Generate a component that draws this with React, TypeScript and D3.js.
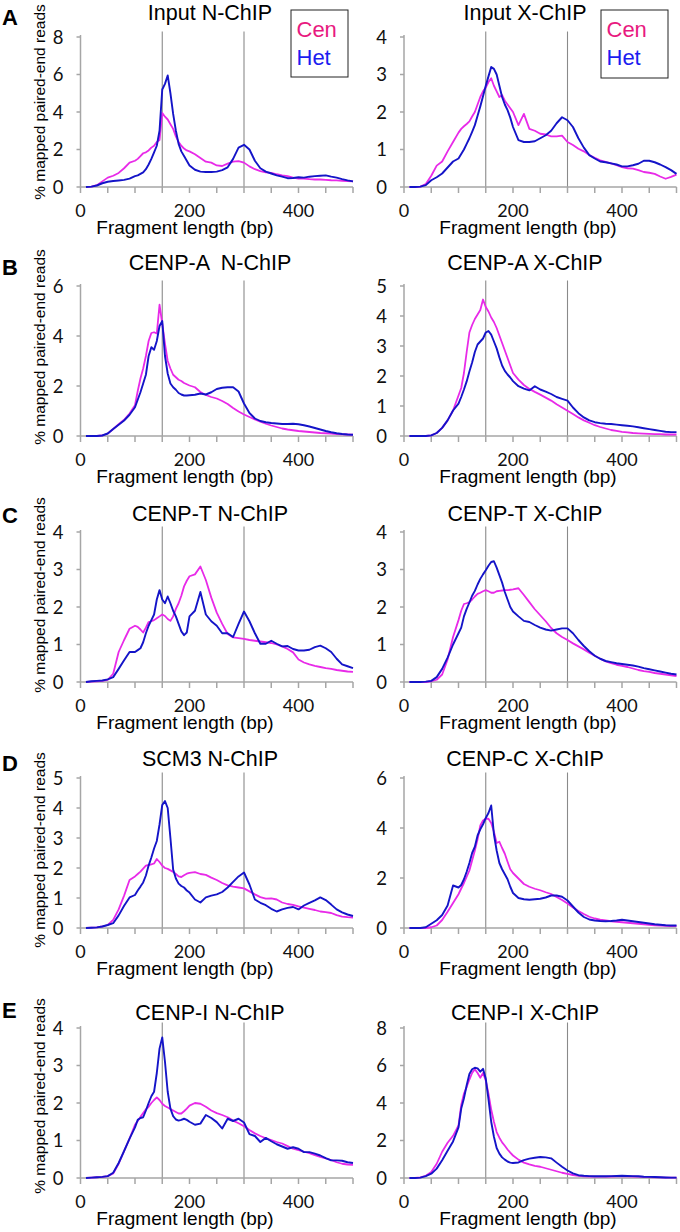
import React from 'react';
import * as d3 from 'd3';

// Fragment length grid (bp)
const fragmentLengths = [
  10, 20, 30, 40, 50, 60, 70, 80, 90, 100,
  105, 110, 115, 120, 125, 130, 135, 140, 145, 150, 155, 160, 165, 170, 175, 180, 185, 190, 195, 200,
  210, 220, 230, 240, 250, 260, 270, 280, 290, 300, 310, 320, 330, 340, 350, 360, 370, 380, 390, 400,
  410, 420, 430, 440, 450, 460, 470, 480, 490, 500,
];

const xTickLabels = [0, 200, 400];
const xMinorTicks = [0, 50, 100, 150, 200, 250, 300, 350, 400, 450, 500];
const refLines = [150, 300];
const seriesNames = ['Cen', 'Het'];

// A: Input N-ChIP
const inputN_cen = [
  0, 0.02, 0.1, 0.3, 0.5, 0.6, 0.75, 1.0, 1.3, 1.4,
  1.5, 1.65, 1.8, 1.85, 1.95, 2.1, 2.2, 2.4, 2.5, 3.95, 3.75, 3.6, 3.35, 3.1, 2.7, 2.4, 2.2, 2.05, 1.95, 1.9,
  1.75, 1.55, 1.35, 1.3, 1.15, 1.12, 1.25, 1.35, 1.38, 1.3, 1.1, 0.95, 0.85, 0.78, 0.75, 0.68, 0.62, 0.58, 0.5, 0.45,
  0.45, 0.42, 0.4, 0.4, 0.38, 0.36, 0.35, 0.33, 0.32, 0.3,
];
const inputN_het = [
  0, 0.02, 0.08, 0.2, 0.28, 0.32, 0.35, 0.38, 0.45, 0.58,
  0.62, 0.7, 0.78, 0.95, 1.2, 1.5, 1.85, 2.2, 3.0, 5.2, 5.5, 5.95, 5.0, 3.9, 3.0, 2.3, 1.9, 1.65, 1.4, 1.15,
  0.92, 0.82, 0.8, 0.8, 0.82, 0.9, 1.05, 1.5, 2.1, 2.25, 2.0, 1.4, 1.0, 0.82, 0.72, 0.62, 0.55, 0.47, 0.48, 0.52,
  0.5, 0.55, 0.58, 0.6, 0.62, 0.55, 0.5, 0.42, 0.35, 0.3,
];
// A: Input X-ChIP
const inputX_cen = [
  0, 0, 0.01, 0.08, 0.3, 0.57, 0.68, 0.95, 1.2, 1.45,
  1.55, 1.62, 1.68, 1.75, 1.88, 2.0, 2.2, 2.4, 2.55, 2.65, 2.8, 2.9, 2.7, 2.55, 2.4, 2.45, 2.3, 2.2, 2.1, 2.0,
  1.65, 1.95, 1.55, 1.5, 1.42, 1.4, 1.35, 1.35, 1.37, 1.2, 1.12, 1.02, 0.95, 0.85, 0.78, 0.71, 0.67, 0.63, 0.58, 0.53,
  0.5, 0.49, 0.45, 0.4, 0.38, 0.35, 0.28, 0.22, 0.27, 0.33,
];
const inputX_het = [
  0, 0, 0.01, 0.05, 0.18, 0.26, 0.36, 0.52, 0.68, 0.76,
  0.88, 1.0, 1.15, 1.3, 1.47, 1.65, 1.9, 2.15, 2.42, 2.7, 2.95, 3.2, 3.15, 3.0, 2.7, 2.4, 2.2, 2.05, 1.85, 1.6,
  1.25, 1.2, 1.2, 1.22, 1.3, 1.38, 1.5, 1.7, 1.86, 1.78, 1.6, 1.3, 1.05, 0.85, 0.76, 0.68, 0.66, 0.63, 0.6, 0.55,
  0.55, 0.58, 0.62, 0.7, 0.7, 0.66, 0.6, 0.53, 0.45, 0.35,
];
// B: CENP-A N-ChIP
const cenpaN_cen = [
  0, 0, 0, 0.02, 0.1, 0.28, 0.47, 0.65, 0.9, 1.23,
  1.8, 2.3, 2.7, 3.2, 3.8, 4.12, 4.15, 4.1, 5.25, 4.5, 3.7, 3.0, 2.7, 2.45, 2.35, 2.25, 2.2, 2.12, 2.07, 2.02,
  1.95, 1.76, 1.64, 1.56, 1.5, 1.4, 1.28, 1.12, 0.98, 0.86, 0.76, 0.66, 0.57, 0.49, 0.42, 0.36, 0.3, 0.26, 0.23, 0.2,
  0.18, 0.16, 0.14, 0.12, 0.11, 0.1, 0.08, 0.07, 0.06, 0.05,
];
const cenpaN_het = [
  0, 0, 0, 0.02, 0.1, 0.28, 0.45, 0.62, 0.85, 1.15,
  1.45, 1.75, 2.1, 2.45, 3.2, 3.55, 3.45, 3.8, 4.4, 4.6, 3.2, 2.5, 2.1, 1.95, 1.85, 1.72, 1.66, 1.62, 1.62, 1.63,
  1.65, 1.7, 1.66, 1.75, 1.88, 1.93, 1.95, 1.95, 1.78, 1.3, 0.92, 0.7, 0.6, 0.55, 0.52, 0.5, 0.48, 0.48, 0.49, 0.47,
  0.43, 0.38, 0.32, 0.26, 0.2, 0.15, 0.11, 0.08, 0.06, 0.05,
];
// B: CENP-A X-ChIP
const cenpaX_cen = [
  0, 0, 0, 0, 0.02, 0.1, 0.27, 0.52, 0.85, 1.35,
  1.6, 2.1, 2.8, 3.45, 3.7, 3.9, 4.05, 4.2, 4.55, 4.3, 4.15, 3.95, 3.8, 3.6, 3.35, 3.1, 2.85, 2.6, 2.35, 2.1,
  1.88, 1.7, 1.57, 1.47, 1.38, 1.28, 1.18, 1.06, 0.95, 0.84, 0.73, 0.62, 0.52, 0.44, 0.36, 0.3, 0.25, 0.2, 0.17, 0.14,
  0.12, 0.1, 0.09, 0.08, 0.07, 0.06, 0.06, 0.05, 0.05, 0.05,
];
const cenpaX_het = [
  0, 0, 0, 0, 0.02, 0.1, 0.27, 0.52, 0.85, 1.08,
  1.3, 1.55, 1.82, 2.15, 2.45, 2.8, 3.05, 3.15, 3.25, 3.45, 3.5, 3.38, 3.15, 2.92, 2.62, 2.35, 2.17, 2.05, 1.95, 1.83,
  1.66, 1.58, 1.52, 1.66, 1.55, 1.48, 1.4, 1.3, 1.24, 1.18, 0.95, 0.76, 0.62, 0.52, 0.46, 0.43, 0.41, 0.4, 0.38, 0.36,
  0.34, 0.32, 0.29, 0.26, 0.23, 0.2, 0.17, 0.14, 0.13, 0.13,
];
// C: CENP-T N-ChIP
const cenptN_cen = [
  0, 0.01, 0.02, 0.03, 0.06, 0.22, 0.8, 1.12, 1.42, 1.5,
  1.47, 1.4, 1.32, 1.45, 1.6, 1.62, 1.65, 1.7, 1.75, 1.8, 1.76, 1.68, 1.63, 1.75, 1.95, 2.1, 2.3, 2.55, 2.7, 2.82,
  2.87, 3.08, 2.72, 2.25, 1.85, 1.55, 1.28, 1.19, 1.17, 1.15, 1.12, 1.1, 1.08, 1.06, 1.04, 1.0, 0.95, 0.88, 0.79, 0.6,
  0.52, 0.47, 0.43, 0.4, 0.37, 0.35, 0.32, 0.3, 0.28, 0.27,
];
const cenptN_het = [
  0, 0.02, 0.03, 0.04, 0.07, 0.13, 0.35, 0.58, 0.8, 0.8,
  0.85, 0.9, 1.06, 1.3, 1.5, 1.65, 1.8, 2.2, 2.45, 2.2, 2.1, 2.28, 2.1, 1.9, 1.75, 1.55, 1.35, 1.25, 1.32, 1.75,
  1.9, 2.4, 1.8, 1.62, 1.5, 1.3, 1.3, 1.2, 1.55, 1.88, 1.62, 1.3, 1.02, 1.02, 1.1, 1.02, 0.95, 0.96, 0.88, 0.84,
  0.84, 0.86, 0.93, 0.97, 0.9, 0.8, 0.62, 0.47, 0.42, 0.37,
];
// C: CENP-T X-ChIP
const cenptX_cen = [
  0, 0, 0, 0, 0.02, 0.06, 0.2, 0.6, 1.2, 1.65,
  1.9, 2.08, 2.1, 2.13, 2.2, 2.28, 2.35, 2.38, 2.42, 2.45, 2.42, 2.38, 2.38, 2.42, 2.43, 2.44, 2.45, 2.45, 2.46, 2.47,
  2.5, 2.32, 2.13, 1.94, 1.78, 1.62, 1.44, 1.3, 1.2, 1.12, 1.03, 0.95, 0.87, 0.78, 0.7, 0.62, 0.55, 0.5, 0.46, 0.43,
  0.4, 0.36, 0.32, 0.29, 0.27, 0.24, 0.22, 0.2, 0.18, 0.16,
];
const cenptX_het = [
  0, 0, 0, 0.01, 0.03, 0.13, 0.35, 0.65, 1.0, 1.3,
  1.45, 1.75, 1.95, 2.12, 2.3, 2.43, 2.6, 2.75, 2.87, 2.98, 3.1, 3.2, 3.22, 3.05, 2.85, 2.65, 2.4, 2.2, 2.0, 1.88,
  1.75, 1.63, 1.6, 1.52, 1.45, 1.4, 1.37, 1.4, 1.43, 1.43, 1.3, 1.12, 0.96, 0.82, 0.7, 0.62, 0.56, 0.53, 0.5, 0.48,
  0.46, 0.44, 0.41, 0.37, 0.34, 0.31, 0.28, 0.25, 0.22, 0.2,
];
// D: SCM3 N-ChIP
const scm3N_cen = [
  0, 0.01, 0.02, 0.05, 0.1, 0.27, 0.62, 1.08, 1.6, 1.72,
  1.8, 1.88, 1.98, 2.08, 2.1, 2.12, 2.15, 2.3, 2.2, 2.08, 2.0, 1.97, 1.92, 1.87, 1.8, 1.72, 1.7, 1.76, 1.81, 1.84,
  1.86, 1.8, 1.77, 1.68, 1.6, 1.5, 1.42, 1.38, 1.35, 1.32, 1.22, 1.12, 1.03, 0.98, 0.99, 0.95, 0.85, 0.8, 0.77, 0.72,
  0.68, 0.64, 0.6, 0.55, 0.53, 0.5, 0.43, 0.38, 0.36, 0.35,
];
const scm3N_het = [
  0, 0.01, 0.02, 0.05, 0.1, 0.16, 0.42, 0.74, 1.02, 1.1,
  1.25, 1.38, 1.52, 1.75, 2.08, 2.35, 2.65, 2.9, 3.45, 4.1, 4.23, 4.0, 3.0, 1.95, 1.65, 1.48, 1.4, 1.35, 1.25, 1.18,
  0.95, 0.85, 1.02, 1.08, 1.12, 1.2, 1.35, 1.54, 1.72, 1.85, 1.45, 0.95, 0.84, 0.76, 0.64, 0.55, 0.62, 0.67, 0.7, 0.62,
  0.75, 0.84, 0.92, 1.02, 0.93, 0.78, 0.62, 0.52, 0.45, 0.4,
];
// D: CENP-C X-ChIP
const cenpcX_cen = [
  0, 0, 0, 0, 0.03, 0.1, 0.32, 0.65, 1.0, 1.35,
  1.58, 1.8, 2.05, 2.3, 2.7, 3.1, 3.55, 4.1, 4.3, 4.37, 4.37, 4.2, 3.85, 3.4, 3.45, 3.2, 2.97, 2.65, 2.35, 2.2,
  1.98, 1.76, 1.65, 1.57, 1.51, 1.43, 1.36, 1.24, 1.12, 0.98, 0.82, 0.68, 0.56, 0.45, 0.38, 0.33, 0.3, 0.27, 0.25, 0.23,
  0.21, 0.19, 0.17, 0.15, 0.13, 0.11, 0.1, 0.09, 0.08, 0.08,
];
const cenpcX_het = [
  0, 0, 0, 0.03, 0.17, 0.31, 0.52, 0.9, 1.7, 1.62,
  1.72, 1.95, 2.25, 2.6, 3.0, 3.25, 3.7, 3.95, 4.15, 4.4, 4.6, 4.9, 3.75, 3.1, 2.6, 2.35, 2.15, 1.95, 1.65, 1.4,
  1.2, 1.15, 1.13, 1.15, 1.17, 1.22, 1.3, 1.3, 1.25, 1.1, 0.86, 0.62, 0.44, 0.34, 0.3, 0.28, 0.27, 0.28, 0.3, 0.33,
  0.3, 0.27, 0.24, 0.21, 0.18, 0.15, 0.13, 0.11, 0.1, 0.1,
];
// E: CENP-I N-ChIP
const cenpiN_cen = [
  0, 0.01, 0.02, 0.03, 0.05, 0.12, 0.38, 0.72, 1.05, 1.42,
  1.52, 1.63, 1.73, 1.83, 1.9, 2.0, 2.08, 2.15, 2.08, 1.98, 1.92, 1.88, 1.84, 1.8, 1.76, 1.72, 1.72, 1.78, 1.85, 1.93,
  2.0, 1.98, 1.9, 1.8, 1.73, 1.68, 1.62, 1.53, 1.46, 1.38, 1.28, 1.19, 1.12, 1.06, 1.01, 0.96, 0.92, 0.85, 0.78, 0.74,
  0.7, 0.66, 0.61, 0.56, 0.52, 0.48, 0.42, 0.38, 0.36, 0.35,
];
const cenpiN_het = [
  0, 0.01, 0.02, 0.03, 0.05, 0.14, 0.4, 0.72, 1.05, 1.35,
  1.55, 1.6, 1.62, 1.8, 2.0, 2.18, 2.3, 2.8, 3.45, 3.75, 3.1, 2.3, 1.85, 1.65, 1.56, 1.53, 1.55, 1.58, 1.55, 1.5,
  1.42, 1.45, 1.68, 1.6, 1.49, 1.32, 1.58, 1.52, 1.58, 1.48, 1.17, 1.12, 0.96, 1.07, 0.98, 0.9, 0.84, 0.78, 0.82, 0.78,
  0.69, 0.69, 0.65, 0.6, 0.53, 0.47, 0.47, 0.46, 0.42, 0.4,
];
// E: CENP-I X-ChIP
const cenpiX_cen = [
  0, 0, 0.03, 0.12, 0.32, 0.76, 1.4, 1.88, 2.25, 2.8,
  3.9, 4.5, 4.85, 5.25, 5.6, 5.8, 5.6, 5.35, 5.6, 5.2, 4.5, 3.65, 3.0, 2.45, 2.15, 1.9, 1.72, 1.52, 1.35, 1.2,
  0.98, 0.82, 0.73, 0.65, 0.6, 0.52, 0.44, 0.36, 0.28, 0.22, 0.16, 0.12, 0.09, 0.08, 0.07, 0.07, 0.07, 0.08, 0.09, 0.1,
  0.09, 0.08, 0.07, 0.06, 0.05, 0.04, 0.03, 0.02, 0.02, 0.02,
];
const cenpiX_het = [
  0, 0, 0.02, 0.1, 0.23, 0.5, 0.95, 1.45, 1.95, 2.7,
  3.7, 4.25, 4.95, 5.55, 5.8, 5.88, 5.85, 5.67, 5.82, 5.3, 4.2, 3.0, 2.2, 1.6, 1.3, 1.1, 0.98, 0.88, 0.82, 0.8,
  0.83, 0.95, 1.03, 1.08, 1.12, 1.1, 1.05, 0.82, 0.6, 0.4, 0.25, 0.15, 0.12, 0.1, 0.09, 0.09, 0.09, 0.1, 0.11, 0.12,
  0.11, 0.1, 0.09, 0.07, 0.06, 0.05, 0.04, 0.03, 0.02, 0.02,
];

const panelTitles = [
  ['Input N-ChIP', 'Input X-ChIP'],
  ['CENP-A  N-ChIP', 'CENP-A X-ChIP'],
  ['CENP-T N-ChIP', 'CENP-T X-ChIP'],
  ['SCM3 N-ChIP', 'CENP-C X-ChIP'],
  ['CENP-I N-ChIP', 'CENP-I X-ChIP'],
];
const panelLetters = ['A', 'B', 'C', 'D', 'E'];
const cenSeries = [
  [inputN_cen, inputX_cen],
  [cenpaN_cen, cenpaX_cen],
  [cenptN_cen, cenptX_cen],
  [scm3N_cen, cenpcX_cen],
  [cenpiN_cen, cenpiX_cen],
];
const hetSeries = [
  [inputN_het, inputX_het],
  [cenpaN_het, cenpaX_het],
  [cenptN_het, cenptX_het],
  [scm3N_het, cenpcX_het],
  [cenpiN_het, cenpiX_het],
];
const yTickLabels = [
  [[0, 2, 4, 6, 8], [0, 1, 2, 3, 4]],
  [[0, 2, 4, 6], [0, 1, 2, 3, 4, 5]],
  [[0, 1, 2, 3, 4], [0, 1, 2, 3, 4]],
  [[0, 1, 2, 3, 4, 5], [0, 2, 4, 6]],
  [[0, 1, 2, 3, 4], [0, 2, 4, 6, 8]],
];

// layout
const W = 680;
const H = 1232;
const colX0 = [80.5, 404];
const plotW = 272.5;
const plotH = 150;
const rowBase = [187, 436, 682, 928, 1178];
const titleY = [19.5, 270, 521, 766, 1020];
const titleX = [210, 525];
const letterY = [25, 275, 523, 771, 1018];
const yLabelY = [102, 347, 595, 850, 1096];
const xLabelX = [185, 528];
const xLabelDy = [47, 46.5];

const CEN_LINE = '#e82ae8';
const HET_LINE = '#1414c8';
const CEN_TEXT = '#e8197f';
const HET_TEXT = '#1c1cf0';
const AXIS = '#a6a6a6';
const REF = '#8a8a8a';
const SANS = '"Liberation Sans", Arial, Helvetica, sans-serif';
const TICKFONT = 'Lato, "Open Sans", sans-serif';

function Panel({ row, col }: { row: number; col: number }) {
  const x0 = colX0[col];
  const base = rowBase[row];
  const ticks = yTickLabels[row][col];
  const yMax = ticks[ticks.length - 1];
  const x = d3.scaleLinear().domain([0, 500]).range([x0, x0 + plotW]);
  const y = d3.scaleLinear().domain([0, yMax]).range([base, base - plotH]);
  const line = d3
    .line<number>()
    .x((_, i) => x(fragmentLengths[i]))
    .y((d) => y(d));
  const cen = cenSeries[row][col];
  const het = hetSeries[row][col];
  return (
    <g>
      <text
        x={titleX[col]}
        y={titleY[row]}
        textAnchor="middle"
        fontFamily={SANS}
        fontSize={21.5}
        style={{ whiteSpace: 'pre' }}
      >
        {panelTitles[row][col]}
      </text>
      {refLines.map((v) => (
        <line key={v} x1={x(v)} x2={x(v)} y1={base - plotH - 5.5} y2={base} stroke={REF} strokeWidth={1.1} />
      ))}
      {/* y axis */}
      <line x1={x0} x2={x0} y1={base - plotH - 2} y2={base} stroke={AXIS} strokeWidth={1.5} />
      {ticks.map((t) => (
        <g key={t}>
          <line x1={x0 - 4} x2={x0} y1={y(t)} y2={y(t)} stroke={AXIS} strokeWidth={1.5} />
          <text
            x={x0 - 17}
            y={y(t)}
            dy="0.36em"
            textAnchor="end"
            fontFamily={TICKFONT}
            fontSize={18.5}
            fill="#111"
          >
            {t}
          </text>
        </g>
      ))}
      {/* x axis */}
      <line x1={x0} x2={x(500)} y1={base} y2={base} stroke={AXIS} strokeWidth={1.5} />
      {xMinorTicks.map((t) => (
        <line key={t} x1={x(t)} x2={x(t)} y1={base} y2={base + 6} stroke={AXIS} strokeWidth={1.5} />
      ))}
      {xTickLabels.map((t) => (
        <text
          key={t}
          x={x(t)}
          y={base + 30}
          textAnchor="middle"
          fontFamily={TICKFONT}
          fontSize={18}
          fill="#111"
        >
          {t}
        </text>
      ))}
      <text
        x={xLabelX[col]}
        y={base + xLabelDy[col]}
        textAnchor="middle"
        fontFamily={SANS}
        fontSize={19}
      >
        Fragment length (bp)
      </text>
      <path d={line(cen) || ''} fill="none" stroke={CEN_LINE} strokeWidth={1.8} strokeLinejoin="round" />
      <path d={line(het) || ''} fill="none" stroke={HET_LINE} strokeWidth={1.9} strokeLinejoin="round" />
    </g>
  );
}

function Legend({ x, y, w, h }: { x: number; y: number; w: number; h: number }) {
  return (
    <g>
      <rect x={x} y={y} width={w} height={h} fill="white" stroke="#222" strokeWidth={1} />
      <text x={x + 5.5} y={y + 27} fontFamily={SANS} fontSize={22} fill={CEN_TEXT}>
        {seriesNames[0]}
      </text>
      <text x={x + 5.5} y={y + 54.5} fontFamily={SANS} fontSize={22} fill={HET_TEXT}>
        {seriesNames[1]}
      </text>
    </g>
  );
}

export default function App() {
  return (
    <svg
      width={W}
      height={H}
      viewBox={`0 0 ${W} ${H}`}
      style={{ position: 'absolute', left: 0, top: 0, background: 'white' }}
    >
      <rect width={W} height={H} fill="white" />
      {panelLetters.map((letter, row) => (
        <g key={letter}>
          <text x={2} y={letterY[row]} fontFamily={SANS} fontWeight="bold" fontSize={22}>
            {letter}
          </text>
          <text
            transform={`translate(39, ${yLabelY[row]}) rotate(-90)`}
            textAnchor="middle"
            dominantBaseline="central"
            fontFamily={SANS}
            fontSize={15.5}
          >
            % mapped paired-end reads
          </text>
          <Panel row={row} col={0} />
          <Panel row={row} col={1} />
        </g>
      ))}
      <Legend x={291} y={10} w={57} h={67} />
      <Legend x={601} y={10} w={67} h={68} />
    </svg>
  );
}
